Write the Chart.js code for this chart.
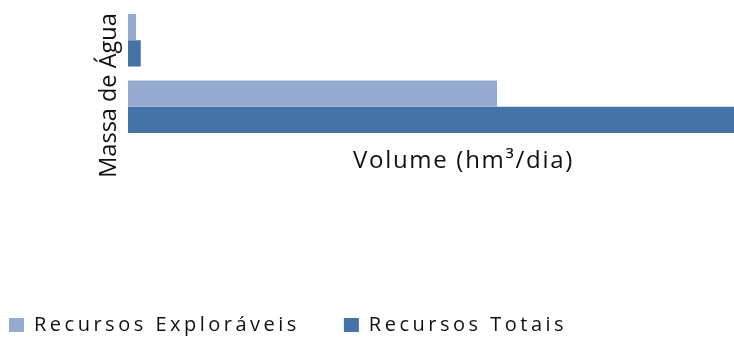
<!DOCTYPE html>
<html>
<head>
<meta charset="utf-8">
<script src="https://cdn.jsdelivr.net/npm/chart.js@4/dist/chart.umd.min.js"></script>
<style>
  html, body { margin: 0; padding: 0; background: #ffffff; overflow: hidden; }
  #wrap { width: 734px; height: 338px; overflow: hidden; }
  #c { display: block; }
</style>
</head>
<body>
<div id="wrap"><canvas id="c" width="799" height="338"></canvas></div>
<script>
// ---- data ----
const categories = ["Massa de água A", "Massa de água B"];
const seriesNames = ["Recursos Exploráveis", "Recursos Totais"];
const recursosExploraveis = [0.12, 5.5];
const recursosTotais = [0.19, 10];
const xAxisTitle = "Volume (hm³/dia)";
const yAxisTitle = "Massa de Água";

const TEXT = '#111111';
const FONT = "'Open Sans', 'DejaVu Sans', sans-serif";

const spacingPlugin = {
  id: 'spacing',
  beforeLayout(chart) { chart.ctx.letterSpacing = '3.5px'; },
  beforeDraw(chart) { chart.ctx.letterSpacing = '3.5px'; },
  afterDatasetsDraw(chart) { chart.ctx.letterSpacing = '1.7px'; },
  afterDraw(chart) {
    const ctx = chart.ctx;
    ctx.save();
    ctx.letterSpacing = '0px';
    ctx.font = "23.5px " + FONT;
    ctx.fillStyle = TEXT;
    ctx.textAlign = 'center';
    ctx.textBaseline = 'alphabetic';
    ctx.translate(116, 95.5);
    ctx.rotate(-Math.PI / 2);
    ctx.fillText(yAxisTitle, 0, 0);
    ctx.restore();
    ctx.letterSpacing = '0px';
  }
};

new Chart(document.getElementById('c'), {
  type: 'bar',
  data: {
    labels: categories,
    datasets: [
      { label: seriesNames[0], data: recursosExploraveis, backgroundColor: '#95AAD0', borderWidth: 0 },
      { label: seriesNames[1], data: recursosTotais, backgroundColor: '#4473A8', borderWidth: 0 }
    ]
  },
  options: {
    indexAxis: 'y',
    responsive: false,
    animation: false,
    events: [],
    categoryPercentage: 0.79,
    barPercentage: 1.0,
    layout: { padding: { left: -35, right: 0, top: 7, bottom: -7 } },
    scales: {
      x: {
        min: 0, max: 10,
        grid: { display: false, drawTicks: false, z: 1 },
        border: { display: false },
        ticks: { display: false },
        title: {
          display: true, text: xAxisTitle, color: TEXT,
          font: { family: FONT, size: 24 },
          padding: { top: 0, bottom: 95 }
        },
        afterFit(s) { s.height = 131; }
      },
      y: {
        grid: { display: false, drawTicks: false },
        border: { display: false },
        ticks: { display: false },
        title: { display: false },
        afterFit(s) { s.width = 163; }
      }
    },
    plugins: {
      tooltip: { enabled: false },
      legend: {
        position: 'bottom',
        align: 'start',
        labels: {
          color: TEXT,
          font: { family: FONT, size: 20 },
          boxWidth: 15,
          boxHeight: 14,
          padding: 44
        }
      }
    }
  },
  plugins: [spacingPlugin]
});
</script>
</body>
</html>
